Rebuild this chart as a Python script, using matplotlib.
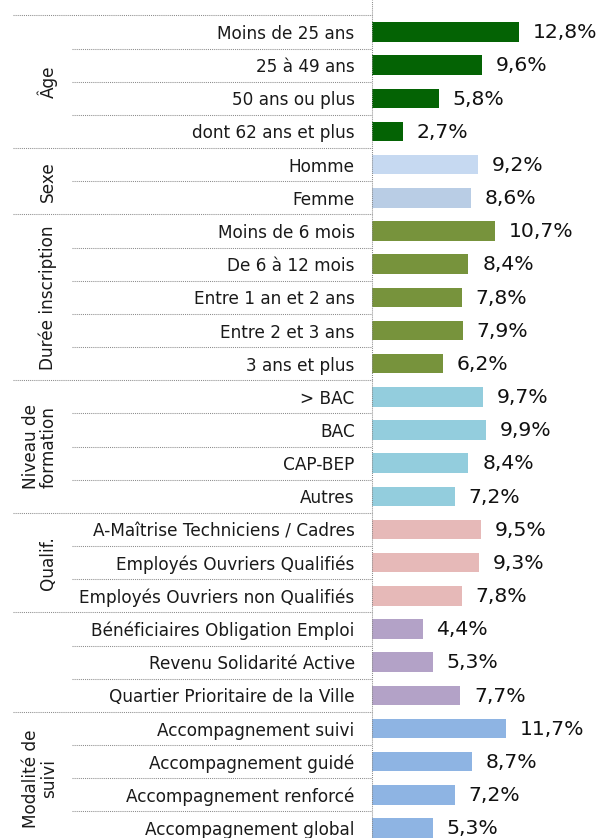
import matplotlib
matplotlib.use("Agg")
import matplotlib.pyplot as plt
from matplotlib.transforms import blended_transform_factory

# data, grouped top to bottom
group_names = ["Âge", "Sexe", "Durée inscription", "Niveau de\nformation", "Qualif.", "", "Modalité de\nsuivi"]
group_labels = [
    ["Moins de 25 ans", "25 à 49 ans", "50 ans ou plus", "dont 62 ans et plus"],
    ["Homme", "Femme"],
    ["Moins de 6 mois", "De 6 à 12 mois", "Entre 1 an et 2 ans", "Entre 2 et 3 ans", "3 ans et plus"],
    ["> BAC", "BAC", "CAP-BEP", "Autres"],
    ["A-Maîtrise Techniciens / Cadres", "Employés Ouvriers Qualifiés", "Employés Ouvriers non Qualifiés"],
    ["Bénéficiaires Obligation Emploi", "Revenu Solidarité Active", "Quartier Prioritaire de la Ville"],
    ["Accompagnement suivi", "Accompagnement guidé", "Accompagnement renforcé", "Accompagnement global"],
]
group_values = [
    [12.8, 9.6, 5.8, 2.7],
    [9.2, 8.6],
    [10.7, 8.4, 7.8, 7.9, 6.2],
    [9.7, 9.9, 8.4, 7.2],
    [9.5, 9.3, 7.8],
    [4.4, 5.3, 7.7],
    [11.7, 8.7, 7.2, 5.3],
]
group_colors = [
    ["#046304"] * 4,
    ["#c6d9f1", "#b9cde5"],
    ["#77933c"] * 5,
    ["#93cddd"] * 4,
    ["#e6b9b8"] * 3,
    ["#b3a2c7"] * 3,
    ["#8eb4e3"] * 4,
]

labels = [l for g in group_labels for l in g]
values = [v for g in group_values for v in g]
colors = [c for g in group_colors for c in g]
pos = list(range(len(values)))

W, H = 609, 838
fig = plt.figure(figsize=(W / 100, H / 100), dpi=100)
ax = fig.add_axes([372 / W, 0, 237 / W, 1])

ax.barh(pos, values, height=0.59, color=colors)
ax.set_xlim(0, 237 / 11.48)
ax.set_ylim(24.3, -0.964)

for p, v in zip(pos, values):
    ax.annotate(f"{v:.1f}%".replace(".", ","), (v, p), xytext=(10, -0.5),
                textcoords="offset points", va="center", ha="left",
                fontsize=14.7, color="#111111")

ax.set_yticks(pos)
ax.set_yticklabels(labels, fontsize=12.2, color="#1a1a1a")
ax.tick_params(axis="y", length=0, pad=12.5)
ax.set_xticks([])
for s in ax.spines.values():
    s.set_visible(False)

# dotted separators
tr = blended_transform_factory(fig.transFigure, ax.transData)
dot = dict(color="#8c8c8c", linewidth=0.75, linestyle=(0, (1, 1)), clip_on=False)
start = 0
for g in group_values:
    ax.plot([13 / W, 372 / W], [start - 0.5, start - 0.5], transform=tr, **dot)
    for k in range(1, len(g)):
        ax.plot([72 / W, 372 / W], [start + k - 0.5, start + k - 0.5], transform=tr, **dot)
    start += len(g)
ax.axvline(0, **dot)

# group names, rotated
start = 0
for name, g in zip(group_names, group_values):
    mid = start + (len(g) - 1) / 2
    x = 40 / W if "\n" in name else 48 / W
    ax.text(x, mid, name, rotation=90, ha="center", va="center", multialignment="center",
            fontsize=12.2, color="#1a1a1a", linespacing=1.0, transform=tr)
    start += len(g)

fig.savefig("out.png", dpi=100)
